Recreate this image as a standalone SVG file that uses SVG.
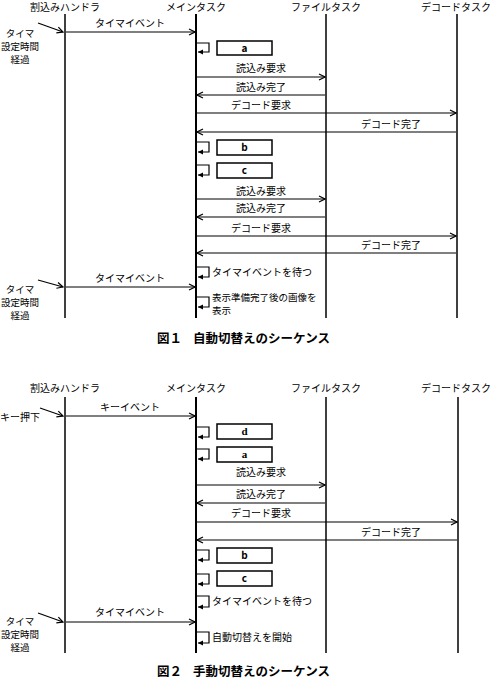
<svg xmlns="http://www.w3.org/2000/svg" width="492" height="682" viewBox="0 0 492 682">
<style>
text{font-family:"Noto Sans CJK JP","Noto Sans",sans-serif;font-size:10px;fill:#000}
.c{text-anchor:middle}
.s{font-size:9.5px}
.cap{font-size:12.5px;font-weight:bold}
.ll{stroke:#000;stroke-width:1.5;fill:none}
.lm{stroke:#000;stroke-width:2;fill:none}
.msg{stroke:#000;stroke-width:1.2;fill:none;marker-end:url(#open)}
.loop{stroke:#000;stroke-width:1.2;fill:none;marker-end:url(#fill)}
.box{stroke:#000;stroke-width:1.5;fill:#fff}
.bt{font-weight:bold;text-anchor:middle}
.serif{font-family:"Liberation Serif",serif;font-size:11px;font-weight:bold}
</style>
<defs>
<marker id="open" markerWidth="8" markerHeight="8" refX="7" refY="4" orient="auto" markerUnits="userSpaceOnUse"><path d="M1,1 L7,4 L1,7" fill="none" stroke="#000" stroke-width="1.2"/></marker>
<marker id="fill" markerWidth="6" markerHeight="6" refX="5" refY="3" orient="auto" markerUnits="userSpaceOnUse"><path d="M0,0.5 L5,3 L0,5.5Z" fill="#000"/></marker>
</defs>
<rect width="492" height="682" fill="#fff"/>

<!-- Figure 1 -->
<g id="fig1-lifelines">
<g id="f1-handler"><text class="c" x="65" y="11">割込みハンドラ</text><line class="ll" x1="65" y1="14" x2="65" y2="318"/></g>
<g id="f1-main"><text class="c" x="196" y="11">メインタスク</text><line class="lm" x1="196" y1="14" x2="196" y2="318"/></g>
<g id="f1-file"><text class="c" x="326" y="11">ファイルタスク</text><line class="ll" x1="326" y1="14" x2="326" y2="318"/></g>
<g id="f1-decode"><text class="c" x="456" y="11">デコードタスク</text><line class="ll" x1="457" y1="14" x2="457" y2="318"/></g>
</g>
<g id="f1-notes">
<g id="f1-timer1"><text class="c s" x="20" y="37">タイマ</text><text class="c s" x="20" y="50">設定時間</text><text class="c s" x="20" y="63">経過</text></g>
<g id="f1-timer2"><text class="c s" x="20" y="293">タイマ</text><text class="c s" x="20" y="306">設定時間</text><text class="c s" x="20" y="319">経過</text></g>
<g id="f1-box-a"><rect class="box" x="217" y="41" width="55" height="14"/><text class="bt" x="244.5" y="52">a</text></g>
<g id="f1-box-b"><rect class="box" x="217" y="140" width="55" height="15"/><text class="bt" x="244.5" y="151">b</text></g>
<g id="f1-box-c"><rect class="box" x="217" y="163" width="55" height="15"/><text class="bt" x="244.5" y="174">c</text></g>
<text x="212" y="276">タイマイベントを待つ</text>
<text class="s" x="212" y="301">表示準備完了後の画像を</text>
<text class="s" x="212" y="314">表示</text>
</g>
<g id="f1-connectors">
<line class="msg" x1="38" y1="23" x2="63" y2="32"/>
<line class="msg" x1="66" y1="32" x2="195" y2="32"/><text class="c" x="130" y="27">タイマイベント</text>
<path class="loop" d="M197,43 H209 V52 H198"/>
<line class="msg" x1="197" y1="77" x2="325" y2="77"/><text class="c" x="261" y="72">読込み要求</text>
<line class="msg" x1="325" y1="95" x2="197" y2="95"/><text class="c" x="261" y="91">読込み完了</text>
<line class="msg" x1="197" y1="113" x2="456" y2="113"/><text class="c" x="261" y="109">デコード要求</text>
<line class="msg" x1="456" y1="132" x2="197" y2="132"/><text class="c" x="391" y="128">デコード完了</text>
<path class="loop" d="M197,142 H209 V152 H198"/>
<path class="loop" d="M197,165 H209 V175 H198"/>
<line class="msg" x1="197" y1="199" x2="325" y2="199"/><text class="c" x="261" y="195">読込み要求</text>
<line class="msg" x1="325" y1="217" x2="197" y2="217"/><text class="c" x="261" y="212">読込み完了</text>
<line class="msg" x1="197" y1="236" x2="456" y2="236"/><text class="c" x="261" y="232">デコード要求</text>
<line class="msg" x1="456" y1="253" x2="197" y2="253"/><text class="c" x="391" y="249">デコード完了</text>
<path class="loop" d="M197,267 H209 V277 H198"/>
<line class="msg" x1="38" y1="280" x2="63" y2="287"/>
<line class="msg" x1="66" y1="287" x2="195" y2="287"/><text class="c" x="130" y="282">タイマイベント</text>
<path class="loop" d="M197,297 H209 V307 H198"/>
</g>
<text class="cap" x="157" y="343">図１</text><text class="cap" x="193" y="343">自動切替えのシーケンス</text>

<!-- Figure 2 -->
<g id="fig2-lifelines">
<g id="f2-handler"><text class="c" x="65" y="392">割込みハンドラ</text><line class="ll" x1="65" y1="397" x2="65" y2="653"/></g>
<g id="f2-main"><text class="c" x="196" y="392">メインタスク</text><line class="lm" x1="196" y1="397" x2="196" y2="653"/></g>
<g id="f2-file"><text class="c" x="326" y="392">ファイルタスク</text><line class="ll" x1="326" y1="397" x2="326" y2="653"/></g>
<g id="f2-decode"><text class="c" x="456" y="392">デコードタスク</text><line class="ll" x1="458" y1="397" x2="458" y2="653"/></g>
</g>
<g id="f2-notes">
<g id="f2-key"><text class="c" x="20" y="421">キー押下</text></g>
<g id="f2-timer"><text class="c s" x="20" y="625">タイマ</text><text class="c s" x="20" y="638">設定時間</text><text class="c s" x="20" y="651">経過</text></g>
<g id="f2-box-d"><rect class="box" x="217" y="424" width="55" height="15"/><text class="bt serif" x="244.5" y="435">d</text></g>
<g id="f2-box-a"><rect class="box" x="217" y="447" width="55" height="15"/><text class="bt serif" x="244.5" y="458">a</text></g>
<g id="f2-box-b"><rect class="box" x="217" y="548" width="55" height="15"/><text class="bt" x="244.5" y="559">b</text></g>
<g id="f2-box-c"><rect class="box" x="217" y="571" width="55" height="15"/><text class="bt" x="244.5" y="582">c</text></g>
<text x="212" y="605">タイマイベントを待つ</text>
<text x="212" y="641">自動切替えを開始</text>
</g>
<g id="f2-connectors">
<line class="msg" x1="40" y1="408" x2="63" y2="416"/>
<line class="msg" x1="66" y1="416" x2="195" y2="416"/><text class="c" x="130" y="411">キーイベント</text>
<path class="loop" d="M197,427 H209 V437 H198"/>
<path class="loop" d="M197,449 H209 V459 H198"/>
<line class="msg" x1="197" y1="485" x2="325" y2="485"/><text class="c" x="261" y="476">読込み要求</text>
<line class="msg" x1="325" y1="503" x2="197" y2="503"/><text class="c" x="261" y="498">読込み完了</text>
<line class="msg" x1="197" y1="522" x2="457" y2="522"/><text class="c" x="261" y="517">デコード要求</text>
<line class="msg" x1="457" y1="540" x2="197" y2="540"/><text class="c" x="391" y="536">デコード完了</text>
<path class="loop" d="M197,550 H209 V560 H198"/>
<path class="loop" d="M197,574 H209 V584 H198"/>
<path class="loop" d="M197,596 H209 V607 H198"/>
<line class="msg" x1="38" y1="613" x2="63" y2="622"/>
<line class="msg" x1="66" y1="622" x2="195" y2="622"/><text class="c" x="130" y="616">タイマイベント</text>
<path class="loop" d="M197,632 H209 V643 H198"/>
</g>
<text class="cap" x="157" y="676">図２</text><text class="cap" x="193" y="676">手動切替えのシーケンス</text>
</svg>
